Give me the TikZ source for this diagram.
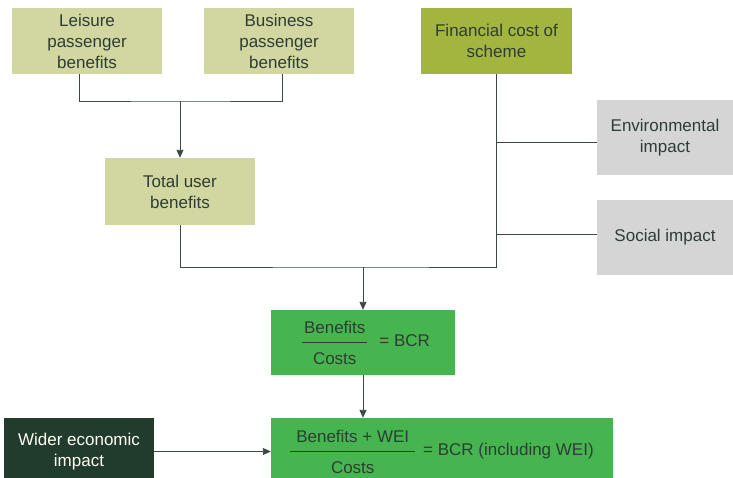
\documentclass[tikz,border=0pt]{standalone}
\usepackage{fontspec}
\setmainfont{Liberation Sans}
\usetikzlibrary{arrows.meta}

\definecolor{olivelight}{HTML}{D2D6A0}
\definecolor{olivedark}{HTML}{A3B43F}
\definecolor{greylight}{HTML}{D5D5D5}
\definecolor{bcrgreen}{HTML}{47B54F}
\definecolor{darkforest}{HTML}{213B2D}
\definecolor{textdark}{HTML}{2E3D35}
\definecolor{linedark}{HTML}{3A4A43}

\tikzset{>={Stealth[length=8pt,width=7pt,inset=0pt]},
	box/.style={inner sep=0pt, align=center, text=textdark,
		font=\fontsize{17}{21}\selectfont},
	olivebox/.style={box, fill=olivelight, minimum width=150pt, minimum height=66pt},
	costbox/.style={box, fill=olivedark, minimum width=151pt, minimum height=66pt},
	greybox/.style={box, fill=greylight, minimum width=136pt, minimum height=75pt},
	greenbox/.style={box, fill=bcrgreen, minimum height=65pt},
	darkbox/.style={box, fill=darkforest, text=white!94!yellow, minimum width=150pt, minimum height=67pt},
	conn/.style={draw=linedark, line width=0.9pt}}

% #1 = extra rule length on each side
\newcommand{\ratio}[3]{{\renewcommand{\arraystretch}{1.45}%
	\begin{tabular}{@{\hspace{#1}}c@{\hspace{#1}}}#2\\\hline #3\end{tabular}}}

\begin{document}
\begin{tikzpicture}[x=1pt,y=-1pt]
		\useasboundingbox (0,0) rectangle (733,477);
		
		% top row
		\node[olivebox] (leisure) at (87,41) {Leisure\\passenger\\benefits};
		\node[olivebox] (business) at (279,41) {Business\\passenger\\benefits};
		\node[costbox] (finance) at (496.5,41) {Financial cost of\\scheme};
		
		% right column
		\node[greybox] (env) at (665,137.5) {Environmental\\impact};
		\node[greybox] (social) at (665,237.5) {Social impact};
		
		\node[olivebox, minimum height=67pt] (total) at (180,191.5) {Total user\\benefits};
		
		% ratios
		\node[greenbox, minimum width=184pt] (bcr) at (363,342.5) {\hspace{6pt}\ratio{2pt}{Benefits}{Costs}\hspace{12pt}= BCR};
		\node[greenbox, minimum width=342pt, minimum height=67pt] (bcrwei) at (442,451.5) {\ratio{6pt}{Benefits + WEI}{Costs}\hspace{8pt}= BCR (including WEI)};
		\node[darkbox] (wider) at (79,451.5) {Wider economic\\impact};
		
		% connectors
		\coordinate (ujoin) at (180,101);
		\coordinate (cjoin) at (363,267);
		\draw[conn] ([xshift=-8pt]leisure.south) |- (ujoin) -| ([xshift=3pt]business.south);
		\draw[conn,->] (ujoin) -- (total);
		\draw[conn] (total.south) |- (cjoin) -| (finance.south);
		\draw[conn] ([yshift=-5pt]env.west) -- ([yshift=-5pt]env.west -| finance.south);
		\draw[conn] ([yshift=3.5pt]social.west) -- ([yshift=3.5pt]social.west -| finance.south);
		\draw[conn,->] (cjoin) -- (bcr);
		\draw[conn,->] (bcr.south) -- (bcr.south |- bcrwei.north);
		\draw[conn,->] (wider.east) -- (wider.east -| bcrwei.west);
\end{tikzpicture}
\end{document}
